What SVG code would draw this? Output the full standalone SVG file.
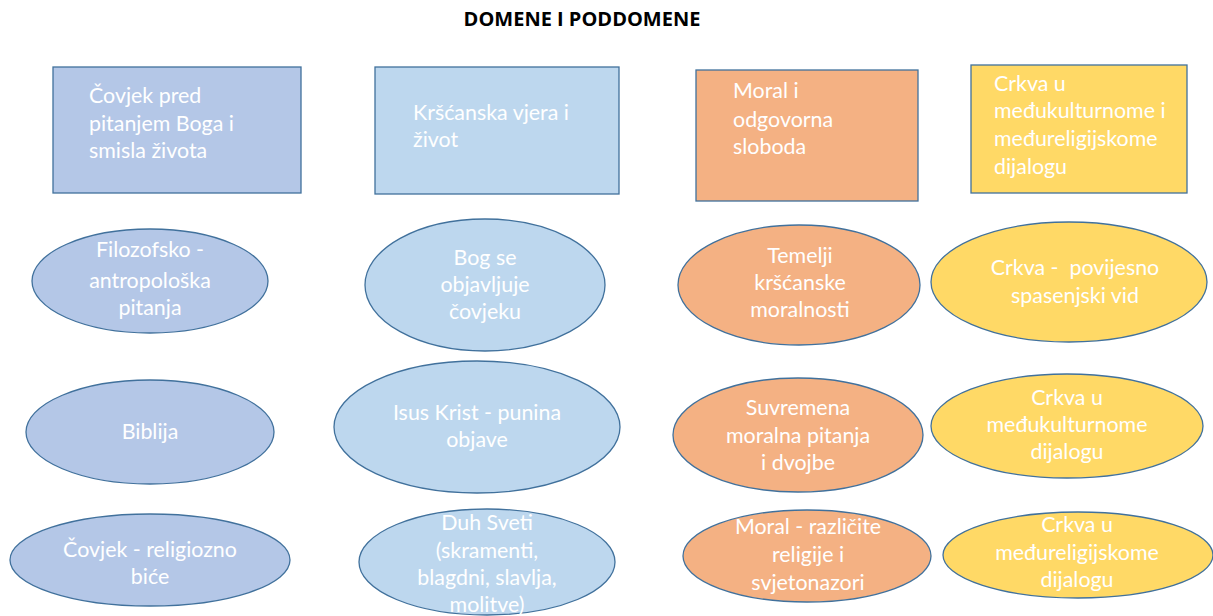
<svg xmlns="http://www.w3.org/2000/svg" width="1213" height="616" viewBox="0 0 1213 616">
<style>
.t{font-family:Lato,"Open Sans","Liberation Sans",sans-serif;font-size:21.4px;fill:#ffffff}
.m{text-anchor:middle}
.s{stroke:#41719C;stroke-width:1.3}
.c1{fill:#B4C7E7}.c2{fill:#BDD7EE}.c3{fill:#F4B183}.c4{fill:#FFD966}
.title{font-family:"Open Sans","Liberation Sans",sans-serif;font-size:20px;font-weight:bold;fill:#000;text-anchor:middle}
</style>
<rect width="1213" height="616" fill="#ffffff"/>
<text class="title" x="582" y="26">DOMENE I PODDOMENE</text>
<g id="connectors"/>
<g id="d1"><rect class="s c1" x="53" y="67" width="248" height="126"/>
<text class="t" x="89" y="103">Čovjek pred</text><text class="t" x="89" y="131">pitanjem Boga i</text><text class="t" x="89" y="158">smisla života</text></g>
<g id="d2"><rect class="s c2" x="375" y="67" width="244" height="127"/>
<text class="t" x="413" y="120">Kršćanska vjera i</text><text class="t" x="413" y="147">život</text></g>
<g id="d3"><rect class="s c3" x="696" y="70" width="222" height="131"/>
<text class="t" x="733" y="98">Moral i</text><text class="t" x="733" y="127">odgovorna</text><text class="t" x="733" y="154">sloboda</text></g>
<g id="d4"><rect class="s c4" x="971" y="65" width="216" height="128"/>
<text class="t" x="994" y="91">Crkva u</text><text class="t" x="994" y="118">međukulturnome i</text><text class="t" x="994" y="146">međureligijskome</text><text class="t" x="994" y="174">dijalogu</text></g>

<g id="e1"><ellipse class="s c1" cx="150" cy="281" rx="118" ry="52"/>
<text class="t m" x="150" y="257">Filozofsko -</text><text class="t m" x="150" y="288">antropološka</text><text class="t m" x="150" y="315">pitanja</text></g>
<g id="e2"><ellipse class="s c2" cx="485" cy="285" rx="120" ry="66"/>
<text class="t m" x="485" y="265">Bog se</text><text class="t m" x="485" y="292">objavljuje</text><text class="t m" x="485" y="319">čovjeku</text></g>
<g id="e3"><ellipse class="s c3" cx="799" cy="285" rx="121" ry="60"/>
<text class="t m" x="800" y="263">Temelji</text><text class="t m" x="800" y="290">kršćanske</text><text class="t m" x="800" y="317">moralnosti</text></g>
<g id="e4"><ellipse class="s c4" cx="1069" cy="282" rx="138" ry="60"/>
<text class="t m" x="1075" y="275" xml:space="preserve">Crkva -  povijesno</text><text class="t m" x="1075" y="303">spasenjski vid</text></g>

<g id="e5"><ellipse class="s c1" cx="150" cy="432" rx="124" ry="52"/>
<text class="t m" x="150" y="439">Biblija</text></g>
<g id="e6"><ellipse class="s c2" cx="477" cy="427" rx="143" ry="66"/>
<text class="t m" x="477" y="420">Isus Krist - punina</text><text class="t m" x="477" y="447">objave</text></g>
<g id="e7"><ellipse class="s c3" cx="798" cy="435" rx="125" ry="57"/>
<text class="t m" x="798" y="415">Suvremena</text><text class="t m" x="798" y="443">moralna pitanja</text><text class="t m" x="798" y="470">i dvojbe</text></g>
<g id="e8"><ellipse class="s c4" cx="1067" cy="426" rx="136" ry="52"/>
<text class="t m" x="1067" y="405">Crkva u</text><text class="t m" x="1067" y="432">međukulturnome</text><text class="t m" x="1067" y="459">dijalogu</text></g>

<g id="e9"><ellipse class="s c1" cx="150" cy="560" rx="140" ry="46"/>
<text class="t m" x="150" y="557">Čovjek - religiozno</text><text class="t m" x="150" y="584">biće</text></g>
<g id="e10"><ellipse class="s c2" cx="487" cy="562" rx="128" ry="53"/>
<text class="t m" x="487" y="530">Duh Sveti</text><text class="t m" x="487" y="558">(skramenti,</text><text class="t m" x="487" y="585">blagdni, slavlja,</text><text class="t m" x="487" y="612">molitve)</text></g>
<g id="e11"><ellipse class="s c3" cx="807" cy="556" rx="124" ry="46"/>
<text class="t m" x="808" y="534">Moral - različite</text><text class="t m" x="808" y="562">religije i</text><text class="t m" x="808" y="590">svjetonazori</text></g>
<g id="e12"><ellipse class="s c4" cx="1078" cy="555" rx="135" ry="43"/>
<text class="t m" x="1077" y="532">Crkva u</text><text class="t m" x="1077" y="560">međureligijskome</text><text class="t m" x="1077" y="587">dijalogu</text></g>
</svg>
